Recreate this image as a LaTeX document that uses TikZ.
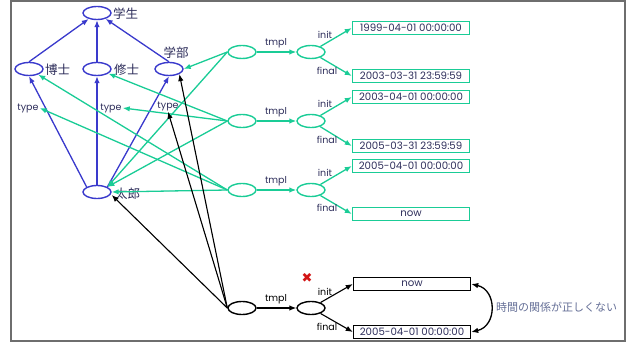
\documentclass[tikz,border=0pt]{standalone}
\usepackage{fontspec}
\setmainfont{Poppins}
\newfontfamily\jpfont{Noto Sans CJK JP}
\newfontfamily\symfont{DejaVu Sans}
\usetikzlibrary{shapes.geometric,arrows.meta}

\definecolor{edgeblue}{RGB}{58,58,204}
\definecolor{edgegreen}{RGB}{26,204,150}
\definecolor{ink}{RGB}{45,45,90}
\definecolor{notecol}{RGB}{100,110,150}
\definecolor{framecol}{RGB}{110,110,110}
\definecolor{crosscol}{RGB}{210,20,20}

\begin{document}
\begin{tikzpicture}[x=1pt,y=-1pt,
  oval/.style={ellipse,draw,line width=1.4pt,minimum width=28pt,minimum height=13pt,inner sep=0pt},
  valbox/.style={rectangle,draw,line width=1.4pt,minimum width=117pt,minimum height=13.5pt,inner sep=0pt,
    font=\fontsize{10.2}{10}\selectfont,text=ink},
  cls/.style={font=\jpfont\fontsize{12.5}{12.5}\selectfont,text=ink,inner sep=0pt},
  lbl/.style={font=\fontsize{9.5}{10}\selectfont,text=ink,inner sep=1pt},
  arr/.style={line width=1.3pt,-{Latex[length=7pt,width=5.5pt]}},
  blue/.style={arr,draw=edgeblue,fill=edgeblue},
  green/.style={arr,draw=edgegreen,fill=edgegreen},
  black/.style={arr,draw=black,fill=black,line width=1.1pt},
]
\useasboundingbox (0,0) rectangle (631,347);
\draw[framecol,line width=1.2pt] (11,1) rectangle (625,341);

% class hierarchy
\node[oval,draw=edgeblue] (gs) at (97,13) {};
\node[oval,draw=edgeblue] (bo) at (29,69) {};
\node[oval,draw=edgeblue] (sh) at (97,69) {};
\node[oval,draw=edgeblue] (gb) at (169,69) {};
\node[oval,draw=edgeblue] (ta) at (97,192) {};
\node[cls,anchor=west] (gsl) at (113,14) {学生};
\node[cls,anchor=west] (bol) at (45,70) {博士};
\node[cls,anchor=west] (shl) at (114,70) {修士};
\node[cls] (gbl) at (176,53) {学部};
\node[cls,anchor=west] (tal) at (115,194) {太郎};

\node[lbl] (ty1) at (28,108) {type};
\node[lbl] (ty2) at (111,108) {type};
\node[lbl] (ty3) at (168,106) {type};

\draw[blue] (bo.north) -- (gs);
\draw[blue] (sh.north) -- (gs.south);
\draw[blue] (gb.north) -- (gs);
\draw[blue] (ta.north west) -- (bo.south);
\draw[blue] (ta.north) -- (sh.south);
\draw[blue] (ta.north east) -- (gb.south);

% reified statements
\node[oval,draw=edgegreen] (g1) at (242,52) {};
\node[oval,draw=edgegreen] (g1b) at (311,52) {};
\node[oval,draw=edgegreen] (g2) at (242,121) {};
\node[oval,draw=edgegreen] (g2b) at (311,121) {};
\node[oval,draw=edgegreen] (g3) at (242,190) {};
\node[oval,draw=edgegreen] (g3b) at (311,190) {};
\node[oval,draw=black] (k1) at (242,308) {};
\node[oval,draw=black] (k2) at (311,308) {};

\node[valbox,draw=edgegreen] (v1) at (411,28) {1999-04-01 00:00:00};
\node[valbox,draw=edgegreen] (v2) at (411,76) {2003-03-31 23:59:59};
\node[valbox,draw=edgegreen] (v3) at (411,97) {2003-04-01 00:00:00};
\node[valbox,draw=edgegreen] (v4) at (411,146) {2005-03-31 23:59:59};
\node[valbox,draw=edgegreen] (v5) at (411,166) {2005-04-01 00:00:00};
\node[valbox,draw=edgegreen] (v6) at (411,214) {now};
\node[valbox,draw=black] (v7) at (412,284) {now};
\node[valbox,draw=black] (v8) at (412,332) {2005-04-01 00:00:00};

% green statement edges
\draw[green] (g1.west) -- (gb.east);
\draw[green] (g1.west) -- (ta.north east);
\draw[green] (g2.west) -- (sh);
\draw[green] (g2.west) -- (ty2.east);
\draw[green] (g2.west) -- (ta.north east);
\draw[green] (g3.west) -- (bo);
\draw[green] (g3.west) -- (ty1.east);
\draw[green] (g3.west) -- (ta.east);

\draw[green] (g1) -- (g1b);
\draw[green] (g2) -- (g2b);
\draw[green] (g3) -- (g3b);
\draw[green] (g1b) -- (v1.west);
\draw[green] (g1b) -- (v2.west);
\draw[green] (g2b) -- (v3.west);
\draw[green] (g2b) -- (v4.west);
\draw[green] (g3b) -- (v5.west);
\draw[green] (g3b) -- (v6.west);

% faulty statement
\draw[black] (k1.west) -- ([yshift=-3pt]ta.east);
\draw[black] (k1.west) -- (ty3.south);
\draw[black] (k1.west) -- (gb.south east);
\draw[black] (k1) -- (k2);
\draw[black] (k2) -- (v7.west);
\draw[black] (k2) -- (v8.west);
\draw[line width=1.3pt,{Latex[length=7pt,width=5.5pt]}-{Latex[length=7pt,width=5.5pt]}]
  (v7.east) .. controls +(26,6) and +(26,-6) .. (v8.east);

% edge labels
\node[lbl] (tm1) at (276,43) {tmpl};
\node[lbl] (tm2) at (276,112) {tmpl};
\node[lbl] (tm3) at (276,181) {tmpl};
\node[lbl,text=black] (tm4) at (276,299) {tmpl};
\node[lbl] (in1) at (325,35) {init};
\node[lbl] (in2) at (325,104) {init};
\node[lbl] (in3) at (325,173) {init};
\node[lbl,text=black] (in4) at (325,292) {init};
\node[lbl] (fi1) at (327,71) {final};
\node[lbl] (fi2) at (327,140) {final};
\node[lbl] (fi3) at (327,208) {final};
\node[lbl,text=black] (fi4) at (327,327) {final};

\node[font=\symfont\fontsize{13}{13}\selectfont,text=crosscol,inner sep=0pt] (bad) at (307,278) {✖};
\node[font=\jpfont\fontsize{11}{11}\selectfont,text=notecol,inner sep=0pt,anchor=west] (note) at (496,307) {時間の関係が正しくない};
\end{tikzpicture}
\end{document}
